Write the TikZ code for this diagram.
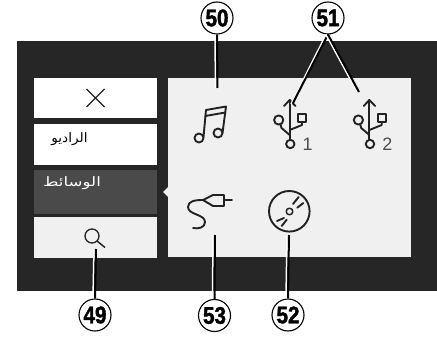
\documentclass[tikz,border=0pt]{standalone}
\usepackage{fontspec}
\usepackage{graphicx}
\setmainfont{Liberation Sans}
\newfontfamily\arabicfont[Script=Arabic]{DejaVu Sans}
\newfontfamily\calloutfont[FakeBold=1.6,FakeStretch=0.86]{Liberation Sans Bold}
\TeXXeTstate=1
\definecolor{panel}{HTML}{262626}
\definecolor{pale}{HTML}{F0F0F0}
\definecolor{mediabox}{HTML}{4A4A4A}
\definecolor{ink}{HTML}{222222}
\tikzset{
  callout/.style={circle,draw=black,fill=white,line width=1.1pt,minimum size=32pt,inner sep=0pt,font=\calloutfont\fontsize{24}{24}\selectfont},
  lead/.style={draw=black,line width=2pt},
  halo/.style={draw=white,line width=1.5pt},
  icon/.style={draw=ink,line width=1.9pt,line cap=round,line join=round},
  btn/.style={draw=none,minimum width=123pt,inner sep=0pt,anchor=north west},
  arlabel/.style={inner sep=0pt,font=\arabicfont\fontsize{13}{15}\selectfont},
}
\begin{document}
\begin{tikzpicture}[x=1pt,y=-1pt]
\useasboundingbox (0,0) rectangle (437,337);
\fill[white] (0,0) rectangle (437,337);
\fill[panel] (17,41) rectangle (437,291);
\fill[pale] (168,78) rectangle (411,257);
\fill[pale] (163,192) -- (168,187) -- (168,197) -- cycle;
\node[btn,fill=white,minimum height=40pt] (closebtn) at (34,78) {};
\node[btn,fill=white,minimum height=41pt] (radiobtn) at (34,124) {};
\node[btn,fill=mediabox,minimum height=44pt] (mediabtn) at (34,170) {};
\node[btn,fill=pale,minimum height=41pt] (searchbtn) at (34,217) {};
\node[arlabel,text=black] at (69.5,139.5) {\scalebox{1.05}[1]{\beginR الراديو\endR}};
\node[arlabel,text=white] at (72,183.5) {\scalebox{1.28}[1]{\beginR الوسائط\endR}};
% close
\draw[ink,line width=1.2pt] (86.5,89) -- (104.5,107) (104.5,89) -- (86.5,107);
% search
\draw[ink,line width=1.3pt] (92,236) circle (7);
\draw[ink,line width=1.5pt] (97,241) -- (105,247.5);
% music
\draw[icon] (199,138) circle (4.5) (218,133) circle (4.5);
\draw[icon] (203.5,137) -- (206,110) -- (226,106.5) -- (222.5,133);
\draw[icon] (205.3,116) -- (225.3,112.5);
% usb
\foreach \dx/\n in {0/1,79.7/2}{
  \begin{scope}[xshift=\dx pt]
    \draw[icon] (289.7,100) -- (289.7,140);
    \draw[icon] (284,106) -- (289.7,100) -- (295.4,106);
    \draw[icon] (278.7,120) circle (4.6);
    \draw[icon] (280.5,124.5) -- (281.5,128) -- (289.7,135);
    \draw[icon] (302,122) -- (302,125) -- (289.7,130);
    \draw[icon] (298,114) rectangle (306,122);
    \draw[icon] (290.3,144) circle (4.2);
    \node[inner sep=0pt,text=ink!80,font=\fontsize{18}{18}\selectfont] at (307.7,144) {\n};
  \end{scope}
}
% cable
\draw[icon] (193,228) .. controls (198,229) and (205,228) .. (205,222) .. controls (205,214) and (188,215) .. (188,207) .. controls (188,201) and (195,200) .. (203,200);
\draw[icon] (203,200) -- (213,195) -- (224,195) -- (224,206) -- (213,206) -- cycle;
\draw[icon] (224,200) -- (232,200);
% disc
\draw[icon] (289.3,211.3) circle (20.3);
\draw[icon,line width=1.5pt] (289.5,211.5) circle (3.3);
\draw[icon] (293,204) -- (298.7,197) (297.3,207.7) -- (303.3,203);
\draw[icon] (284,218) -- (277,221) (286.7,219.7) -- (281.7,226);
% callouts
\node[callout] (c50) at (217,18) {50};
\node[callout] (c51) at (328,18) {51};
\node[callout] (c49) at (95,315) {49};
\node[callout] (c53) at (214.5,315.5) {53};
\node[callout] (c52) at (288,315) {52};
\coordinate (t50) at (217.5,88);
\coordinate (t511) at (293,103);
\coordinate (t512) at (359,92);
\coordinate (t49) at (96,249);
\coordinate (t53) at (215,235);
\coordinate (t52) at (289,235);
\draw[halo] ([xshift=-2pt]c50.south) -- ([xshift=-2pt]t50);
\draw[lead] (c50.south) -- (t50);
\draw[halo] ([xshift=-2pt]c51.south) -- ([xshift=-2pt,yshift=-1pt]t511);
\draw[lead] (c51.south) -- (t511);
\draw[halo] ([xshift=-2pt]c51.south) -- ([xshift=-2pt]t512);
\draw[lead] (c51.south) -- (t512);
\draw[halo] ([xshift=-2pt]c49.north) -- ([xshift=-2pt]t49);
\draw[lead] (c49.north) -- (t49);
\draw[halo] ([xshift=-2pt]c53.north) -- ([xshift=-2pt]t53);
\draw[lead] (c53.north) -- (t53);
\draw[halo] ([xshift=-2pt]c52.north) -- ([xshift=-2pt]t52);
\draw[lead] (c52.north) -- (t52);
\end{tikzpicture}
\end{document}
